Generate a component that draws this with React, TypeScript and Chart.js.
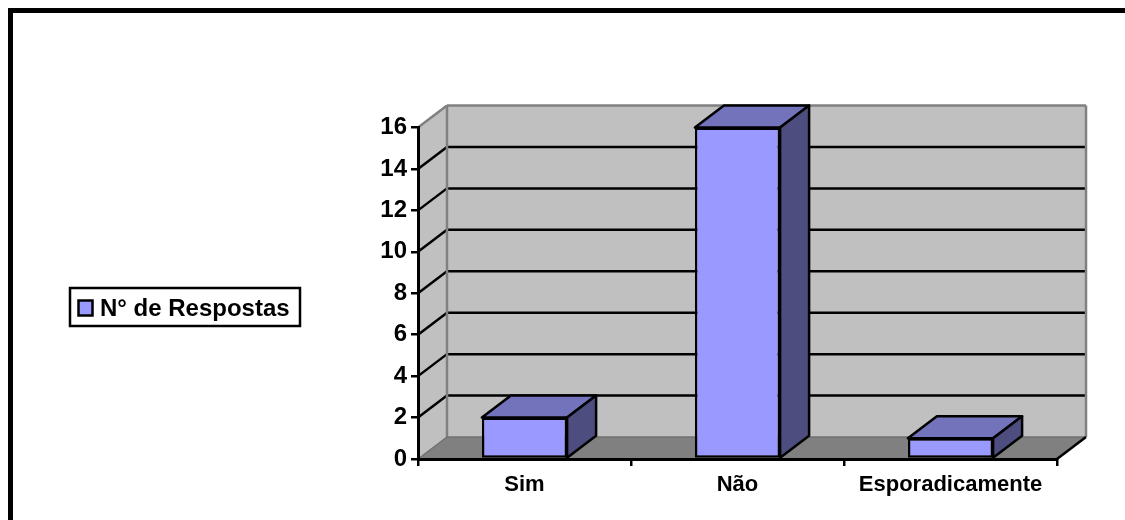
import React, { useEffect, useRef } from "react";
import { Chart, registerables } from "chart.js";

Chart.register(...registerables);

const categories = ["Sim", "Não", "Esporadicamente"];
const seriesLabel = "N° de Respostas";
const seriesValues = [2, 16, 1];
const yMax = 16;
const yStep = 2;

const depthX = 29;
const depthY = 22;
const FONT = "'Liberation Sans', Arial, sans-serif";
const FRONT = "#9999FF";
const TOP = "#7373BB";
const SIDE = "#4D4D80";
const WALL = "#C0C0C0";
const FLOOR = "#808080";
const EDGE = "#808080";

function poly(ctx: CanvasRenderingContext2D, pts: number[][], fill?: string, stroke?: string, lw = 2) {
  ctx.beginPath();
  pts.forEach((p, i) => (i ? ctx.lineTo(p[0], p[1]) : ctx.moveTo(p[0], p[1])));
  ctx.closePath();
  if (fill) {
    ctx.fillStyle = fill;
    ctx.fill();
  }
  if (stroke) {
    ctx.strokeStyle = stroke;
    ctx.lineWidth = lw;
    ctx.lineJoin = "round";
    ctx.stroke();
  }
}

function seg(ctx: CanvasRenderingContext2D, x1: number, y1: number, x2: number, y2: number, color: string, lw: number) {
  ctx.beginPath();
  ctx.moveTo(x1, y1);
  ctx.lineTo(x2, y2);
  ctx.strokeStyle = color;
  ctx.lineWidth = lw;
  ctx.stroke();
}

const scene3d = {
  id: "scene3d",
  beforeDraw(chart: any) {
    const { ctx, chartArea: a, scales } = chart;
    const y = scales.y;
    ctx.save();
    ctx.fillStyle = "#FFFFFF";
    ctx.fillRect(0, 0, chart.width, chart.height);
    // page frame, open on the right and at the bottom
    ctx.fillStyle = "#000000";
    ctx.fillRect(8, 8, chart.width - 8, 5);
    ctx.fillRect(8, 8, 5, chart.height - 8);

    const L = a.left, R = a.right, T = a.top, B = a.bottom;
    // walls and floor
    poly(ctx, [[L + depthX, T - depthY], [R + depthX, T - depthY], [R + depthX, B - depthY], [L + depthX, B - depthY]], WALL);
    poly(ctx, [[L, T], [L + depthX, T - depthY], [L + depthX, B - depthY], [L, B]], WALL);
    poly(ctx, [[L, B], [L + depthX, B - depthY], [R + depthX, B - depthY], [R, B]], FLOOR);
    // grid lines
    for (let v = yStep; v < yMax; v += yStep) {
      const py = y.getPixelForValue(v);
      ctx.lineCap = "butt";
      seg(ctx, L, py, L + depthX, py - depthY, "#000000", 2.5);
      seg(ctx, L + depthX, py - depthY, R + depthX, py - depthY, "#000000", 2.5);
    }
    // wall edges
    seg(ctx, L, T, L + depthX, T - depthY, EDGE, 2.5);
    seg(ctx, L + depthX, T - depthY, R + depthX, T - depthY, EDGE, 2.5);
    seg(ctx, L + depthX, T - depthY, L + depthX, B - depthY, EDGE, 2.5);
    seg(ctx, R + depthX, T - depthY, R + depthX, B - depthY, EDGE, 2.5);
    seg(ctx, L + depthX, B - depthY, R + depthX, B - depthY, "#707070", 1.5);
    seg(ctx, L, B, L + depthX, B - depthY, "#707070", 1.5);
    seg(ctx, R, B, R + depthX, B - depthY, "#000000", 2.5);
    ctx.restore();
  },
  afterDatasetsDraw(chart: any) {
    const { ctx } = chart;
    const meta = chart.getDatasetMeta(0);
    ctx.save();
    meta.data.forEach((bar: any) => {
      const p = bar.getProps(["x", "y", "base", "width"], true);
      const l = p.x - p.width / 2;
      const r = p.x + p.width / 2;
      const t = p.y;
      const b = p.base;
      poly(ctx, [[l, t], [l + depthX, t - depthY], [r + depthX, t - depthY], [r, t]], TOP, "#000000", 2.5);
      poly(ctx, [[r, t], [r + depthX, t - depthY], [r + depthX, b - depthY], [r, b]], SIDE, "#000000", 2.5);
    });
    ctx.restore();
  },
  afterDraw(chart: any) {
    const { ctx } = chart;
    const ds = chart.data.datasets[0];
    ctx.save();
    ctx.fillStyle = "#FFFFFF";
    ctx.strokeStyle = "#000000";
    ctx.lineWidth = 2.5;
    ctx.fillRect(70, 288, 230, 38);
    ctx.strokeRect(70, 288, 230, 38);
    ctx.fillStyle = ds.backgroundColor;
    ctx.lineWidth = 2.5;
    ctx.fillRect(78.5, 300.5, 14, 15);
    ctx.strokeRect(78.5, 300.5, 14, 15);
    ctx.fillStyle = "#000000";
    ctx.font = `bold 24px ${FONT}`;
    ctx.textBaseline = "middle";
    ctx.textAlign = "left";
    ctx.fillText(ds.label, 100, 309);
    ctx.restore();
  },
};

export default function App() {
  const ref = useRef<HTMLCanvasElement>(null);
  useEffect(() => {
    const chart = new Chart(ref.current as HTMLCanvasElement, {
      type: "bar",
      data: {
        labels: categories,
        datasets: [
          {
            label: seriesLabel,
            data: seriesValues,
            backgroundColor: FRONT,
            borderColor: "#000000",
            borderWidth: 2.5,
            borderSkipped: false,
            barPercentage: 0.4,
            categoryPercentage: 1,
          },
        ],
      },
      options: {
        responsive: false,
        animation: false,
        devicePixelRatio: 1,
        layout: { padding: { left: 358, right: 68, top: 127.5, bottom: 11 } },
        plugins: { legend: { display: false }, tooltip: { enabled: false } },
        scales: {
          x: {
            offset: true,
            afterFit: (s: any) => {
              s.height = 50;
            },
            grid: {
              offset: true,
              drawOnChartArea: false,
              drawTicks: true,
              tickLength: 7,
              color: "#000000",
              lineWidth: 2.5,
            },
            border: { display: true, color: "#000000", width: 3 },
            ticks: {
              color: "#000000",
              font: { family: FONT, size: 22, weight: "bold" },
              padding: 6,
              maxRotation: 0,
              autoSkip: false,
            },
          },
          y: {
            min: 0,
            max: yMax,
            afterFit: (s: any) => {
              s.width = 60;
            },
            grid: {
              drawOnChartArea: false,
              drawTicks: true,
              tickLength: 7,
              color: "#000000",
              lineWidth: 2.5,
            },
            border: { display: true, color: "#000000", width: 3 },
            ticks: {
              stepSize: yStep,
              color: "#000000",
              font: { family: FONT, size: 24, weight: "bold" },
              padding: 4,
            },
          },
        },
      },
      plugins: [scene3d],
    } as any);
    return () => chart.destroy();
  }, []);
  return (
    <div style={{ position: "fixed", left: 0, top: 0, width: 1125, height: 520, background: "#fff" }}>
      <canvas ref={ref} width={1125} height={520} style={{ display: "block" }} />
    </div>
  );
}
